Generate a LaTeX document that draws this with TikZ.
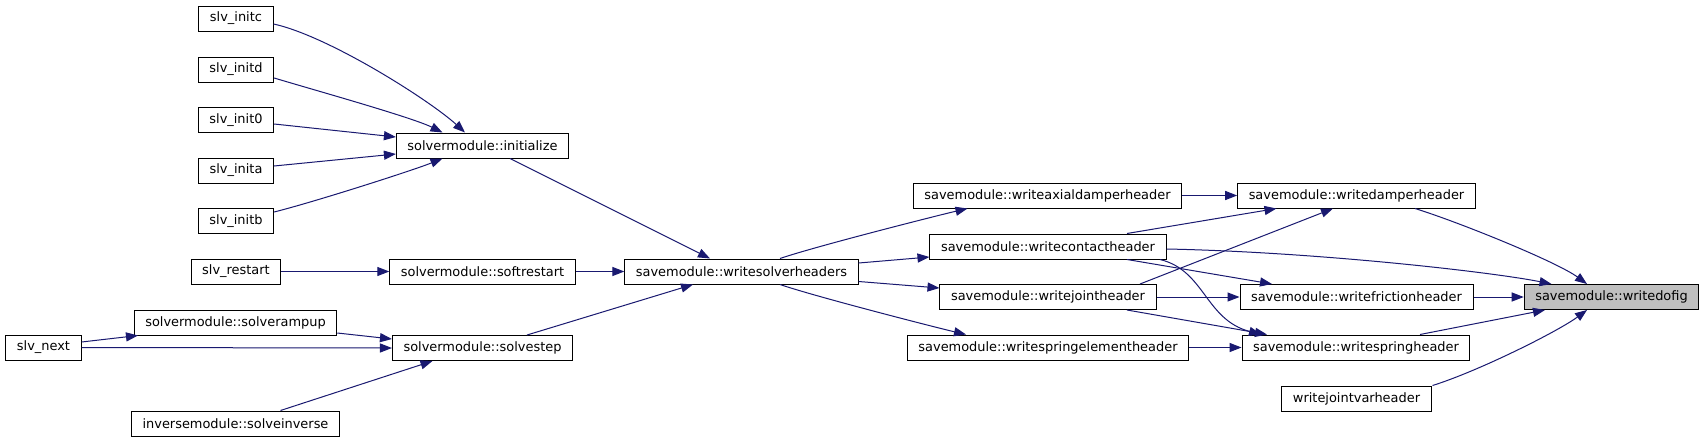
\documentclass[tikz,border=0pt]{standalone}
\usepackage{fontspec}
\setmainfont{DejaVu Sans}
\usetikzlibrary{arrows.meta,calc}
\definecolor{edgecol}{HTML}{191970}
\definecolor{focusfill}{HTML}{BFBFBF}
\begin{document}
\begin{tikzpicture}[x=0.75pt,y=-0.75pt,
  fn/.style={draw=black, line width=0.75pt, fill=white, rectangle, inner xsep=8.3pt, inner ysep=0pt, minimum height=18.75pt, font=\fontsize{9.7pt}{11pt}\selectfont},
  focus/.style={fn, fill=focusfill},
  edge/.style={draw=edgecol, line width=0.75pt, -{Triangle[length=9pt,width=6.8pt]}}]
\fill[white] (0,0) rectangle (1705,443);
\useasboundingbox (0,0) rectangle (1705,443);
% nodes
\node[fn] (ic) at (236,18.5) {slv\_initc};
\node[fn] (id) at (236,69.5) {slv\_initd};
\node[fn] (i0) at (236,120) {slv\_init0};
\node[fn] (ia) at (236,170.5) {slv\_inita};
\node[fn] (ib) at (236,221) {slv\_initb};
\node[fn] (init) at (482.5,145.5) {solvermodule::initialize};
\node[fn] (rst) at (236,271.5) {slv\_restart};
\node[fn] (soft) at (482.5,271.5) {solvermodule::softrestart};
\node[fn] (wsh) at (741.5,271.5) {savemodule::writesolverheaders};
\node[fn] (next) at (43.5,347.5) {slv\_next};
\node[fn] (ramp) at (235.5,322.5) {solvermodule::solverampup};
\node[fn] (step) at (482.5,348) {solvermodule::solvestep};
\node[fn] (inv) at (235.5,423.5) {inversemodule::solveinverse};
\node[fn] (axd) at (1047.5,195.5) {savemodule::writeaxialdamperheader};
\node[fn] (con) at (1048,246.5) {savemodule::writecontactheader};
\node[fn] (jnt) at (1048,297) {savemodule::writejointheader};
\node[fn] (spe) at (1048,347.5) {savemodule::writespringelementheader};
\node[fn] (dmp) at (1356.5,195.5) {savemodule::writedamperheader};
\node[fn] (fri) at (1356.5,297) {savemodule::writefrictionheader};
\node[fn] (spr) at (1356,347.5) {savemodule::writespringheader};
\node[fn] (jvh) at (1356.5,398.5) {writejointvarheader};
\node[focus] (dof) at (1611.5,297) {savemodule::writedofig};
% edges left part
\draw[edge] ($(ic.east)+(0,5.5)$) .. controls +(55,12) and +(-35,-32) .. ($(init.north)+(-17.5,0)$);
\draw[edge] ($(id.east)+(0,8.5)$) .. controls +(40,12) and +(-30,-15) .. ($(init.north)+(-40,0)$);
\draw[edge] ($(i0.east)+(0,4)$) -- ($(init.west)+(0,-8.5)$);
\draw[edge] ($(ia.east)+(0,-4.5)$) -- ($(init.west)+(0,8.5)$);
\draw[edge] ($(ib.east)+(0,-9)$) .. controls +(40,-10) and +(-30,12) .. ($(init.south)+(-40,0)$);
\draw[edge] ($(init.south)+(27.5,0)$) -- ($(wsh.north)+(-31.5,0)$);
\draw[edge] (rst.east) -- (soft.west);
\draw[edge] (soft.east) -- (wsh.west);
\draw[edge] ($(step.north)+(44.5,0)$) -- ($(wsh.south)+(-48.5,0)$);
\draw[edge] ($(next.east)+(0,-5.5)$) -- ($(ramp.south)+(-97.5,0)$);
\draw[edge] (next.east) -- (step.west);
\draw[edge] ($(ramp.east)+(0,10.5)$) -- ($(step.west)+(0,-9)$);
\draw[edge] ($(inv.north)+(45,0)$) -- ($(step.south)+(-50,0)$);
% edges middle
\draw[edge] ($(wsh.north)+(38.5,0)$) .. controls +(35,-12) and +(-30,7) .. ($(axd.south)+(-80,0)$);
\draw[edge] ($(wsh.east)+(0,-8.5)$) -- ($(con.west)+(0,10.5)$);
\draw[edge] ($(wsh.east)+(0,10)$) -- ($(jnt.west)+(0,-9)$);
\draw[edge] ($(wsh.south)+(38.5,0)$) .. controls +(35,12) and +(-30,-7) .. ($(spe.north)+(-82,0)$);
% edges right
\draw[edge] (axd.east) -- (dmp.west);
\draw[edge] ($(con.north)+(79,0)$) -- ($(dmp.south)+(-80,0)$);
\draw[edge] ($(jnt.north)+(92,0)$) -- ($(dmp.south)+(-23.5,0)$);
\draw[edge] ($(con.east)+(0,2.5)$) .. controls +(150,3) and +(-60,-12) .. ($(dof.north)+(-60,0)$);
\draw[edge] ($(con.south)+(79,0)$) -- ($(fri.north)+(-84.5,0)$);
\draw[edge] ($(con.south)+(112,0)$) .. controls +(45,11) and +(-56,-15) .. ($(spr.north)+(-95,0)$);
\draw[edge] (jnt.east) -- (fri.west);
\draw[edge] ($(jnt.south)+(79,0)$) -- ($(spr.north)+(-89,0)$);
\draw[edge] (spe.east) -- (spr.west);
\draw[edge] ($(dmp.south)+(58.5,0)$) .. controls +(45,14) and +(-30,-22) .. ($(dof.north)+(-24.5,0)$);
\draw[edge] (fri.east) -- (dof.west);
\draw[edge] ($(spr.north)+(64,0)$) -- ($(dof.south)+(-66.5,0)$);
\draw[edge] ($(jvh.north)+(76,0)$) .. controls +(45,-14) and +(-30,22) .. ($(dof.south)+(-24.5,0)$);
\end{tikzpicture}
\end{document}
